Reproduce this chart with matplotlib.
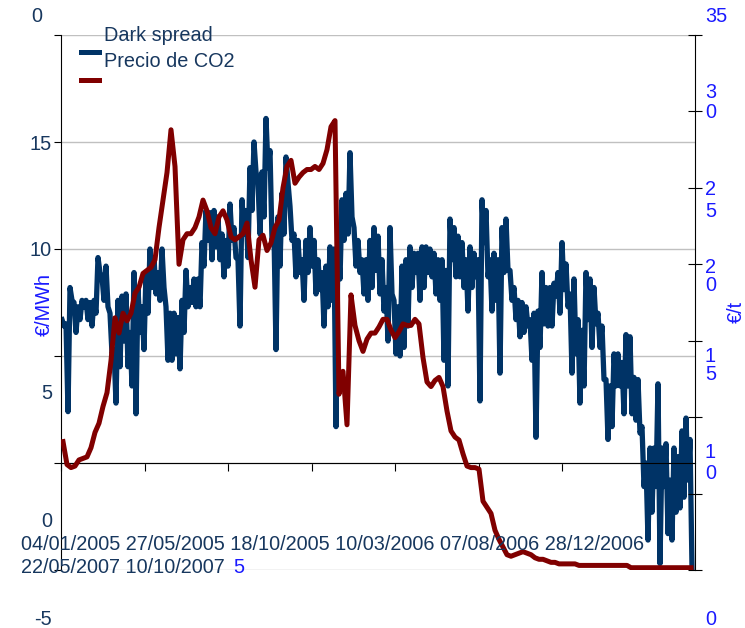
import numpy as np
import matplotlib.pyplot as plt
from matplotlib.lines import Line2D

plt.rcParams['font.family'] = ['Liberation Sans', 'DejaVu Sans']

# category labels on the date axis (one every ~100 trading days)
tick_dates = ['04/01/2005', '27/05/2005', '18/10/2005', '10/03/2006',
              '07/08/2006', '28/12/2006', '22/05/2007', '10/10/2007']

# dark spread, EUR/MWh, two readings per week
dark_spread = [
    6.7, 6.4, 6.5, 2.4, 8.2, 7.6, 7.5, 6.1, 7.3, 6.7, 7.6, 7.3, 7.6, 6.7, 7.5, 6.4, 7.6, 7.0, 9.6, 8.9,
    8.7, 7.6, 9.2, 7.3, 7.0, 5.1, 5.3, 2.8, 7.6, 4.5, 7.8, 5.7, 7.9, 4.5, 6.1, 3.6, 8.9, 2.3, 8.2, 6.1,
    7.3, 5.3, 8.9, 7.0, 10.0, 8.2, 9.6, 7.9, 8.9, 7.6, 10.0, 8.2, 7.3, 4.8, 7.0, 4.8, 7.0, 5.1, 6.8, 4.4,
    7.6, 6.1, 9.0, 7.3, 8.2, 7.5, 8.6, 7.3, 8.6, 7.3, 10.3, 9.2, 11.8, 10.4, 11.7, 9.5, 11.8, 10.1, 11.5, 9.5,
    10.7, 8.7, 10.4, 9.2, 12.1, 10.4, 11.0, 9.6, 9.5, 6.4, 12.3, 10.7, 11.8, 9.6, 13.8, 11.8, 15.0, 13.6, 13.1, 10.7,
    13.6, 11.5, 16.1, 13.8, 14.6, 10.4, 10.7, 5.3, 11.5, 9.2, 12.6, 10.7, 14.3, 13.1, 12.0, 10.4, 10.7, 8.7, 10.4, 8.9,
    9.5, 7.6, 10.4, 8.9, 11.0, 9.2, 10.4, 7.9, 9.5, 8.1, 8.9, 6.4, 9.2, 7.3, 10.1, 7.6, 10.0, 1.7, 10.4, 8.6,
    12.3, 10.4, 12.6, 10.7, 14.5, 11.5, 11.0, 9.2, 10.4, 8.9, 9.5, 7.9, 9.5, 7.6, 10.4, 8.2, 11.0, 9.0, 10.6, 7.9,
    9.5, 7.1, 8.2, 5.7, 11.0, 7.9, 7.6, 5.1, 7.3, 5.0, 9.2, 5.4, 9.5, 6.4, 10.1, 8.2, 9.8, 8.9, 9.8, 7.6,
    10.1, 8.2, 10.1, 8.9, 10.0, 8.7, 9.8, 7.9, 9.5, 7.6, 9.5, 4.8, 9.0, 3.6, 11.4, 9.5, 11.0, 8.7, 10.6, 8.7,
    10.3, 8.2, 9.5, 7.1, 10.1, 8.2, 9.8, 8.7, 9.5, 2.9, 12.3, 10.3, 11.8, 8.7, 9.5, 7.1, 9.8, 7.6, 9.5, 4.2,
    11.0, 8.9, 11.4, 9.0, 9.0, 7.6, 8.2, 6.7, 7.6, 5.9, 7.5, 6.1, 7.3, 6.4, 6.7, 4.8, 7.0, 1.2, 7.1, 5.4,
    8.9, 6.5, 8.2, 6.4, 8.2, 6.4, 8.4, 7.8, 8.9, 7.0, 10.3, 8.1, 9.3, 7.3, 7.9, 4.2, 8.6, 5.1, 6.7, 2.8,
    6.2, 3.6, 8.9, 6.7, 8.6, 5.4, 8.2, 6.5, 7.0, 5.4, 6.4, 3.9, 3.9, 1.1, 3.6, 1.7, 5.1, 3.6, 5.1, 3.6,
    4.7, 2.3, 6.0, 3.6, 5.9, 2.3, 4.0, 2.0, 3.9, 1.4, 1.7, -1.1, 0.0, -3.6, 0.7, -2.3, 0.7, -1.1, 3.7, -4.7,
    0.7, -1.1, 0.9, -3.3, -0.8, -3.6, 0.7, -2.3, 0.3, -2.1, 1.5, -1.6, 2.1, -0.8, 1.1, -4.9,
]

# CO2 allowance price, EUR/t, weekly
co2_price = [
    8.4, 6.9, 6.7, 6.8, 7.2, 7.3, 7.4, 8.0, 9.0, 9.6,
    10.7, 11.6, 13.7, 16.5, 15.5, 16.8, 16.3, 16.8, 18.1, 18.5,
    19.4, 19.6, 19.8, 20.3, 22.4, 24.2, 26.0, 28.8, 26.4, 20.0,
    21.6, 22.0, 22.0, 22.4, 23.1, 24.2, 23.5, 22.4, 22.0, 23.1,
    23.5, 22.9, 21.8, 21.6, 21.8, 22.0, 22.7, 20.3, 18.5, 21.6,
    21.9, 20.9, 21.4, 22.4, 22.9, 25.0, 26.4, 26.8, 25.3, 25.7,
    26.0, 26.2, 26.2, 26.4, 26.2, 26.6, 27.5, 29.0, 29.4, 11.5,
    13.0, 9.5, 18.0, 16.0, 15.0, 14.3, 15.1, 15.5, 15.5, 15.9,
    16.4, 16.4, 15.7, 15.2, 15.6, 16.1, 16.0, 16.0, 16.4, 16.1,
    13.9, 12.3, 12.0, 12.4, 12.6, 12.0, 10.4, 9.1, 8.7, 8.5,
    7.6, 6.8, 6.7, 6.7, 6.6, 4.5, 4.1, 3.7, 2.6, 2.0,
    1.5, 1.0, 0.9, 1.0, 1.1, 1.2, 1.1, 1.0, 0.8, 0.7,
    0.7, 0.6, 0.5, 0.5, 0.4, 0.4, 0.4, 0.4, 0.4, 0.3,
    0.3, 0.3, 0.3, 0.3, 0.3, 0.3, 0.3, 0.3, 0.3, 0.3,
    0.3, 0.3, 0.15, 0.15, 0.15, 0.15, 0.15, 0.15, 0.15, 0.15,
    0.15, 0.15, 0.15, 0.15, 0.15, 0.15, 0.15, 0.15,
]

left_ticks = [20, 15, 10, 5, 0, -5]
right_ticks = [0, 5, 10, 15, 20, 25, 30, 35]

NAVY = '#17375e'
DS_COLOR = '#003366'
CO2_COLOR = '#800000'
AXIS_BLUE = '#1a1aff'
FS = 14.3

W, H = 745, 628
fig = plt.figure(figsize=(W / 100, H / 100), dpi=100)


def fpos(x, y):
    return x / W, 1 - y / H


ax = fig.add_axes([61 / W, 1 - 570 / H, 634 / W, 535 / H])
ax.set_ylim(-5, 20)
ax.set_xlim(-0.5, 158)

x_co2 = np.arange(len(co2_price))
x_ds = np.arange(len(dark_spread)) / 2 - 0.25

ax.plot(x_ds, dark_spread, color=DS_COLOR, lw=3.8)

for s in ['top', 'right']:
    ax.spines[s].set_visible(False)
ax.spines['bottom'].set_position(('data', 0))
ax.spines['left'].set_color('black')
ax.set_yticks(left_ticks)
ax.yaxis.grid(True, color='#c0c0c0', lw=1)
ax.set_axisbelow(True)
ax.tick_params(axis='y', direction='out', length=5, labelleft=False)
ax.set_xticks(np.linspace(-0.5, 145.75, len(tick_dates)))
ax.tick_params(axis='x', direction='out', length=6, labelbottom=False)

ax2 = ax.twinx()
ax2.set_ylim(0, 35)
ax2.plot(x_co2, co2_price, color=CO2_COLOR, lw=3.6)
for s in ['top', 'left', 'bottom']:
    ax2.spines[s].set_visible(False)
ax2.set_yticks(right_ticks)
ax2.tick_params(axis='y', direction='inout', length=10, labelright=False)

# left axis numbers
left_labels = ['0', '15', '10', '5', '0', '-5']
left_xy = [(42, 22), (52, 150), (52, 256), (52, 399), (52, 527), (52, 625)]
for t, (x, y) in zip(left_labels, left_xy):
    fig.text(*fpos(x, y), t, ha='right', va='baseline', color=NAVY, fontsize=FS)

# right axis numbers, wrapped one digit per line
right_parts = [('35', 22), ('3', 98), ('0', 118), ('2', 195), ('5', 217),
               ('2', 273), ('0', 291), ('1', 362), ('5', 380),
               ('1', 458), ('0', 479), ('0', 625)]
for t, y in right_parts:
    fig.text(*fpos(705, y), t, ha='left', va='baseline', color=AXIS_BLUE, fontsize=FS)

# date labels run together on two lines
fig.text(*fpos(21, 550), ' '.join(tick_dates[:6]), ha='left', va='baseline',
         color=NAVY, fontsize=FS)
fig.text(*fpos(21, 573), ' '.join(tick_dates[6:]), ha='left', va='baseline',
         color=NAVY, fontsize=FS)
fig.text(*fpos(233, 573), '5', ha='left', va='baseline', color=AXIS_BLUE, fontsize=FS)

fig.text(*fpos(44, 304), '€/MWh', rotation=90, ha='center', va='center',
         color=AXIS_BLUE, fontsize=FS)
fig.text(*fpos(736, 312), '€/t', rotation=90, ha='center', va='center',
         color=AXIS_BLUE, fontsize=FS)

# legend
for yy, c in [(52, DS_COLOR), (80, CO2_COLOR)]:
    fig.add_artist(Line2D([81 / W, 99 / W], [1 - yy / H] * 2, color=c, lw=3.6,
                          transform=fig.transFigure))
fig.text(*fpos(104, 41), 'Dark spread', ha='left', va='baseline', color=NAVY, fontsize=FS)
fig.text(*fpos(104, 67), 'Precio de CO2', ha='left', va='baseline', color=NAVY, fontsize=FS)

fig.savefig('out.png', dpi=100)
